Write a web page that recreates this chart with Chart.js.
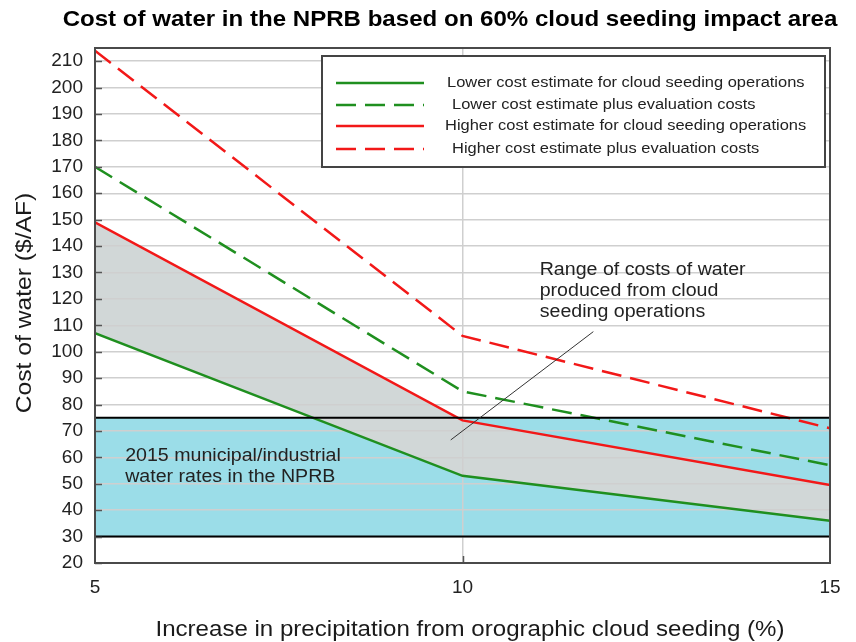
<!DOCTYPE html>
<html>
<head>
<meta charset="utf-8">
<script src="https://cdn.jsdelivr.net/npm/chart.js@4"></script>
<style>
  html, body { margin: 0; padding: 0; background: #fff; }
</style>
</head>
<body>
<canvas id="chart" width="856" height="642"></canvas>
<script>
// increase in precipitation (%)
const increase = [5, 10, 15];
// cost of water ($/AF)
const lowerOps = [107, 53, 36];
const lowerEval = [170, 85, 57];
const higherOps = [149, 74, 49.5];
const higherEval = [214, 106, 71];
// 2015 municipal/industrial water rate band
const rateLow = [30, 30, 30];
const rateHigh = [75, 75, 75];
// axis ticks
const xTicks = [5, 10, 15];
const yTicks = [20, 30, 40, 50, 60, 70, 80, 90, 100, 110, 120, 130, 140, 150, 160, 170, 180, 190, 200, 210];

const seriesNames = [
    'Lower cost estimate for cloud seeding operations',
    'Lower cost estimate plus evaluation costs',
    'Higher cost estimate for cloud seeding operations',
    'Higher cost estimate plus evaluation costs'
];
const titleText = 'Cost of water in the NPRB based on 60% cloud seeding impact area';
const xTitle = 'Increase in precipitation from orographic cloud seeding (%)';
const yTitle = 'Cost of water ($/AF)';
const rangeNote = ['Range of costs of water', 'produced from cloud', 'seeding operations'];
const rateNote = ['2015 municipal/industrial', 'water rates in the NPRB'];

const FONT = '"Liberation Sans", Arial, sans-serif';
const GREEN = '#1f8f1f';
const RED = '#f21818';
const SX = 1.12; // the original lettering runs a bit wider than Arial

const pts = arr => arr.map((v, i) => ({ x: increase[i], y: v }));

function wideText(ctx, s, x, y, align, rot) {
    ctx.save();
    ctx.translate(x, y);
    if (rot) ctx.rotate(rot);
    ctx.scale(SX, 1);
    ctx.textAlign = align;
    ctx.fillText(s, 0, 0);
    ctx.restore();
}

const extras = {
    id: 'extras',
    afterDraw(chart) {
        const { ctx, chartArea: a, scales: { x, y } } = chart;
        ctx.save();
        ctx.textBaseline = 'middle';

        // tick marks pointing into the plot
        ctx.strokeStyle = '#555';
        ctx.lineWidth = 1.5;
        yTicks.forEach(v => {
            const py = Math.round(y.getPixelForValue(v)) + 0.5;
            ctx.beginPath(); ctx.moveTo(a.left, py); ctx.lineTo(a.left + 7, py); ctx.stroke();
        });
        const px10 = Math.round(x.getPixelForValue(10)) + 0.5;
        ctx.beginPath(); ctx.moveTo(px10, a.bottom); ctx.lineTo(px10, a.bottom - 7); ctx.stroke();

        // frame
        ctx.strokeStyle = '#4a4a4a';
        ctx.lineWidth = 2;
        ctx.strokeRect(a.left, a.top, a.right - a.left, a.bottom - a.top);

        // title and axis titles
        ctx.fillStyle = '#000';
        ctx.font = 'bold 21.5px ' + FONT;
        wideText(ctx, titleText, 450, 20, 'center');
        ctx.fillStyle = '#1a1a1a';
        ctx.font = '21.5px ' + FONT;
        wideText(ctx, xTitle, 470, 630, 'center');
        ctx.font = '22px ' + FONT;
        wideText(ctx, yTitle, 25, 303, 'center', -Math.PI / 2);

        // legend box
        ctx.strokeStyle = '#444';
        ctx.lineWidth = 2;
        ctx.fillStyle = '#fff';
        ctx.fillRect(322, 56, 503, 111);
        ctx.strokeRect(322, 56, 503, 111);
        const rows = [83, 105, 126, 149];
        const textX = [447, 452, 445, 452];
        const sets = chart.data.datasets;
        ctx.font = '14.7px ' + FONT;
        rows.forEach((ry, i) => {
            const ds = sets[i + 2];
            ctx.strokeStyle = ds.borderColor;
            ctx.lineWidth = 2.5;
            ctx.setLineDash(ds.borderDash || []);
            ctx.beginPath(); ctx.moveTo(336, ry); ctx.lineTo(424, ry); ctx.stroke();
            ctx.setLineDash([]);
            ctx.fillStyle = '#222';
            wideText(ctx, seriesNames[i], textX[i], ry, 'left');
        });

        // annotations
        ctx.fillStyle = '#222';
        ctx.font = '17.5px ' + FONT;
        rangeNote.forEach((s, i) => {
            wideText(ctx, s, x.getPixelForValue(11.05), y.getPixelForValue(131) + i * 21, 'left');
        });
        rateNote.forEach((s, i) => {
            wideText(ctx, s, x.getPixelForValue(5.41), y.getPixelForValue(60.5) + i * 21, 'left');
        });
        ctx.strokeStyle = '#333';
        ctx.lineWidth = 1;
        ctx.beginPath();
        ctx.moveTo(x.getPixelForValue(9.84), y.getPixelForValue(66.6));
        ctx.lineTo(x.getPixelForValue(11.78), y.getPixelForValue(107.6));
        ctx.stroke();

        ctx.restore();
    }
};

new Chart(document.getElementById('chart'), {
    type: 'line',
    data: {
        datasets: [
            { label: 'rate high line', data: pts(rateHigh), borderColor: '#000', borderWidth: 2, fill: false },
            { label: 'rate low line', data: pts(rateLow), borderColor: '#000', borderWidth: 2, fill: false },
            { label: seriesNames[0], data: pts(lowerOps), borderColor: GREEN, borderWidth: 2.5, fill: false },
            { label: seriesNames[1], data: pts(lowerEval), borderColor: GREEN, borderWidth: 2.5, borderDash: [20, 9], fill: false },
            { label: seriesNames[2], data: pts(higherOps), borderColor: RED, borderWidth: 2.5,
              fill: { target: 2 }, backgroundColor: '#d1d7d7' },
            { label: seriesNames[3], data: pts(higherEval), borderColor: RED, borderWidth: 2.5, borderDash: [20, 9], fill: false },
            { label: 'rate band', data: pts(rateHigh), borderWidth: 0, borderColor: 'rgba(0,0,0,0)',
              fill: { value: 30 }, backgroundColor: '#9bdde8' }
        ]
    },
    options: {
        responsive: false,
        animation: false,
        devicePixelRatio: 1,
        layout: { padding: { top: 48, right: 26, left: 0, bottom: 0 } },
        elements: { point: { radius: 0 }, line: { tension: 0 } },
        plugins: {
            legend: { display: false },
            tooltip: { enabled: false },
            filler: { drawTime: 'beforeDraw' }
        },
        scales: {
            x: {
                type: 'linear',
                min: 5,
                max: 15,
                afterFit: s => { s.height = 79; },
                afterBuildTicks: s => { s.ticks = xTicks.map(v => ({ value: v })); },
                ticks: { padding: 13, color: '#222', font: { size: 19, family: FONT } },
                grid: {
                    drawTicks: false,
                    color: c => (c.tick && c.tick.value === 10) ? '#cfcfcf' : 'rgba(0,0,0,0)',
                    lineWidth: 1.5
                },
                border: { color: '#4a4a4a', width: 2 }
            },
            y: {
                min: 20,
                max: 215,
                afterFit: s => { s.width = 95; },
                afterBuildTicks: s => { s.ticks = yTicks.map(v => ({ value: v })); },
                ticks: { padding: 12, color: '#222', font: { size: 19, family: FONT } },
                grid: { drawTicks: false, color: '#cfcfcf', lineWidth: 1.5 },
                border: { color: '#4a4a4a', width: 2 }
            }
        }
    },
    plugins: [extras]
});
</script>
</body>
</html>
